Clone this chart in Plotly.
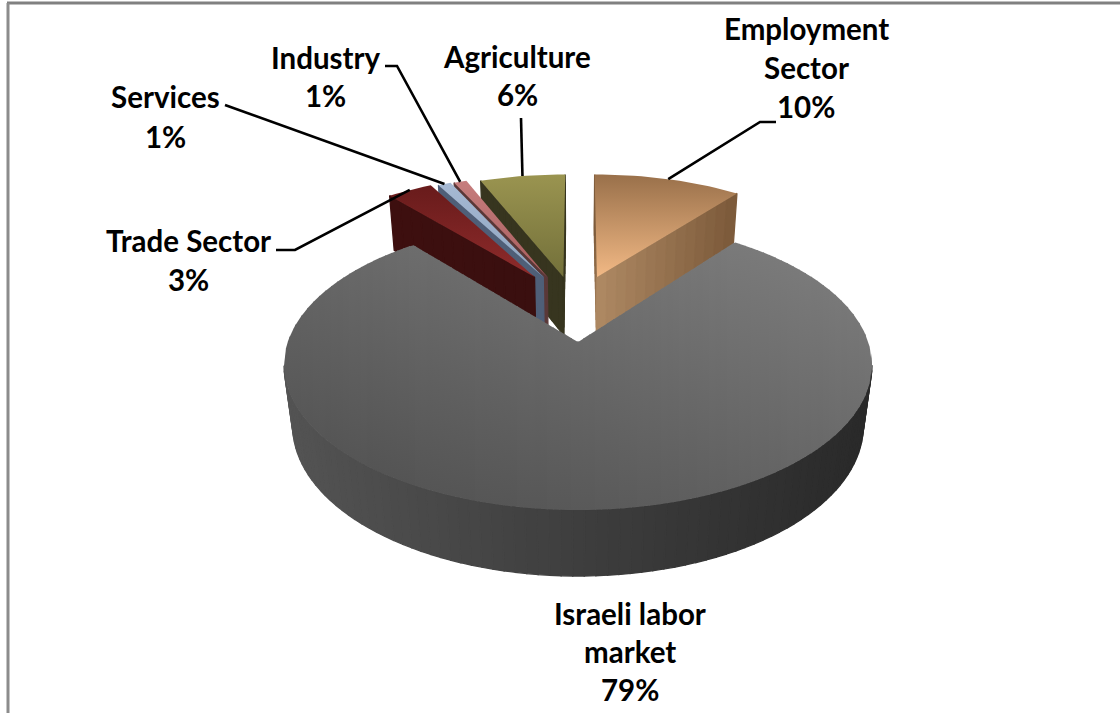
import numpy as np
import plotly.graph_objects as go

# ---- data ----
categories = ["Employment\nSector", "Israeli labor\nmarket", "Trade Sector", "Services", "Industry", "Agriculture"]
shares = [10.4, 78.6, 3.2, 0.9, 0.9, 6.0]

# ---- styles ----
top_colors = [("#99704a", "#f2b985"), ("#7d7d7d", "#575757"), ("#681b1b", "#8f2b2b"),
              ("#a6b9d3", "#8ea4bf"), ("#c67d7d", "#a85c5c"), ("#9a9450", "#73703a")]
side_colors = [("#ad8862", "#7a5838"), ("#545454", "#2a2a2a"), ("#3a0f0f", "#3e1010"),
               ("#4f5f78", "#4f5f78"), ("#5a3838", "#5a3838"), ("#37351f", "#37351f")]
label_xy = [(806, [28, 67]), (630, [613, 651]), (188, [240]), (165, [96]), (325, [57]), (517, [56])]
percent_y = [106, 689, 279, 136, 95, 94]
percent_x = [806, 630, 188, 165, 325, 517]
leader_elbows = [[(760, 122), (776, 122)], None, [(295, 250), (276, 250)], [(225, 105)], [(397, 66), (385, 66)], [(521, 118)]]

# ---- pie geometry: perspective projection ----
CX, CY, A, B, C, K, M = 578, 342, 290.3, 141.3, 62.6, 0.1587, 0.03
RIM_SMALL, PULL_DEPTH = 0.965, 0.496
PULL_SIDE = [0.22, 0.0, 0.29, 0.29, 0.29, 0.29]
MAIN = 1


def project(X, Z, h):
    w = 1 + K * np.asarray(Z) + M * h
    return CX + A * np.asarray(X) / w, CY - (B * np.asarray(Z) - C * h) / w


def hex2rgb(c):
    return np.array([int(c[i:i + 2], 16) for i in (1, 3, 5)], float)


def mix(c0, c1, t):
    t = float(np.clip(t, 0, 1))
    r = hex2rgb(c0) * (1 - t) + hex2rgb(c1) * t
    return "rgb(%d,%d,%d)" % tuple(r)


def grey(x, y):
    v = int(np.clip(106 + 0.04 * (x - CX) - 0.1 * (y - CY), 0, 255))
    return "rgb(%d,%d,%d)" % (v, v, v)


def poly(xs, ys, color):
    return go.Scatter(x=list(xs) + [xs[0]], y=list(ys) + [ys[0]], mode="lines", fill="toself",
                      fillcolor=color, line=dict(color=color, width=1.3), hoverinfo="skip", showlegend=False)


fig = go.Figure()
degrees = np.array(shares) / sum(shares) * 360
ends = np.cumsum(degrees)
starts = ends - degrees
geo = []
for i in range(len(shares)):
    mid = np.radians((starts[i] + ends[i]) / 2)
    if i == MAIN:
        geo.append((0.0, 0.0, 1.0))
    else:
        geo.append((PULL_SIDE[i] * np.sin(mid), PULL_DEPTH, RIM_SMALL))


def main_top(i, xr, yr, xa, ya):
    """Top of the big slice as narrow columns, so its shading can run diagonally."""
    far_x = np.r_[xr[0], xa, xr[-1]]
    far_y = np.r_[yr[0], ya, yr[-1]]
    order_x = np.argsort(far_x)
    left = np.argmin(xr)
    right = np.argmax(xr)
    idx = np.arange(len(xr))
    near = idx[right:left + 1]
    far_l = idx[left:]
    far_r = idx[:right + 1]
    columns = np.arange(np.floor(xr.min()), np.ceil(xr.max()), 6.0)
    for x0 in columns:
        x1 = min(x0 + 7.0, xr.max())
        x0c = max(x0, xr.min())
        xs = np.linspace(x0c, x1, 4)
        low = np.interp(xs, xr[near][::-1], yr[near][::-1])
        hi = np.empty_like(xs)
        for j, x in enumerate(xs):
            if x <= xr[-1]:
                hi[j] = np.interp(x, xr[far_l], yr[far_l])
            elif x >= xr[0]:
                hi[j] = np.interp(x, xr[far_r], yr[far_r])
            else:
                hi[j] = np.interp(x, far_x[order_x], far_y[order_x])
        px = list(xs) + list(xs[::-1]) + [xs[0]]
        py = list(hi) + list(low[::-1]) + [hi[0]]
        y0, y1 = min(py), max(py)
        xm = (x0c + x1) / 2
        fig.add_trace(go.Scatter(x=px, y=py, mode="lines", fill="toself", line=dict(width=0),
                                 fillgradient=dict(type="vertical",
                                                   colorscale=[[0, grey(xm, y0)], [1, grey(xm, y1)]],
                                                   start=y0, stop=y1),
                                 hoverinfo="skip", showlegend=False))


def wedge(i):
    ox, oz, r = geo[i]
    ang = np.radians(np.linspace(starts[i], ends[i], max(int(degrees[i] / 2.0) + 2, 3)))
    X, Z = ox + r * np.sin(ang), oz + r * np.cos(ang)
    c0, c1 = side_colors[i]
    xa, ya = project(ox, oz, 0)
    xb, yb = project(ox, oz, 1)
    walls = []
    # radial walls
    for k in (0, -1):
        xt, yt = project(X[k], Z[k], 0)
        xd, yd = project(X[k], Z[k], 1)
        qx = [xa, xt, xd, xb]
        qy = [ya, yt, yd, yb]
        area = sum(qx[j] * qy[(j + 1) % 4] - qx[(j + 1) % 4] * qy[j] for j in range(4))
        if (k == 0 and area < 0) or (k == -1 and area > 0):
            n = 14
            for j in range(n):
                t0, t1 = j / n, (j + 1) / n
                x0 = xa + (xt - xa) * t0
                x1 = xa + (xt - xa) * t1
                sx = [x0, x1, xb + (xd - xb) * t1, xb + (xd - xb) * t0]
                sy = [ya + (yt - ya) * t0, ya + (yt - ya) * t1, yb + (yd - yb) * t1, yb + (yd - yb) * t0]
                walls.append(poly(sx, sy, mix(c0, c1, t0)))
    # rim wall, near side only
    for j in range(len(X) - 1):
        xt0, yt0 = project(X[j], Z[j], 0)
        xt1, yt1 = project(X[j + 1], Z[j + 1], 0)
        xd0, yd0 = project(X[j], Z[j], 1)
        xd1, yd1 = project(X[j + 1], Z[j + 1], 1)
        if xt1 < xt0 and yd0 > yt0:
            col = mix(c1, c0, (870 - xt0) / 585) if i == MAIN else mix(c0, c1, 0.5)
            walls.append(poly([xt0, xt1, xd1, xd0], [yt0, yt1, yd1, yd0], col))
    for w in walls:
        fig.add_trace(w)
    xr, yr = project(X, Z, 0)
    if i == MAIN:
        main_top(i, xr, yr, xa, ya)
        return
    px = [xa] + list(xr) + [xa]
    py = [ya] + list(yr) + [ya]
    g0, g1 = top_colors[i]
    fig.add_trace(go.Scatter(x=px, y=py, mode="lines", fill="toself", line=dict(width=0),
                             fillgradient=dict(type="vertical", colorscale=[[0, g0], [1, g1]],
                                               start=min(py), stop=max(py)),
                             hoverinfo="skip", showlegend=False))


for i in [5, 4, 3, 2, 0, 1]:
    wedge(i)

# leader lines from each slice rim to its label
for i, elbow in enumerate(leader_elbows):
    if not elbow:
        continue
    ox, oz, r = geo[i]
    mid = np.radians((starts[i] + ends[i]) / 2)
    x0, y0 = project(ox + r * np.sin(mid), oz + r * np.cos(mid), 0)
    fig.add_trace(go.Scatter(x=[x0] + [p[0] for p in elbow], y=[y0] + [p[1] for p in elbow], mode="lines",
                             line=dict(color="#000000", width=2.6), hoverinfo="skip", showlegend=False))

ann = []
font = dict(family="Lato", size=29.5, color="#000000")
for i, name in enumerate(categories):
    lx, ys = label_xy[i]
    for line, y in zip(name.split("\n"), ys):
        ann.append(dict(x=lx, y=y, text="<b>%s</b>" % line, showarrow=False, xref="x", yref="y", font=font))
    ann.append(dict(x=percent_x[i], y=percent_y[i], text="<b>%d%%</b>" % round(shares[i]), showarrow=False,
                    xref="x", yref="y", font=font))

frame = [dict(type="line", xref="x", yref="y", x0=7, x1=1120, y0=3, y1=3, line=dict(color="#808080", width=3)),
         dict(type="line", xref="x", yref="y", x0=8, x1=8, y0=3, y1=713, line=dict(color="#8c8c8c", width=3))]

fig.update_layout(width=1120, height=713, margin=dict(l=0, r=0, t=0, b=0), paper_bgcolor="#ffffff",
                  plot_bgcolor="#ffffff", showlegend=False, annotations=ann, shapes=frame,
                  xaxis=dict(range=[0, 1120], visible=False, fixedrange=True),
                  yaxis=dict(range=[713, 0], visible=False, fixedrange=True))
fig.write_html("out.html", config={"displayModeBar": False},
               post_script="document.body.style.margin='0';document.body.style.overflow='hidden';")
